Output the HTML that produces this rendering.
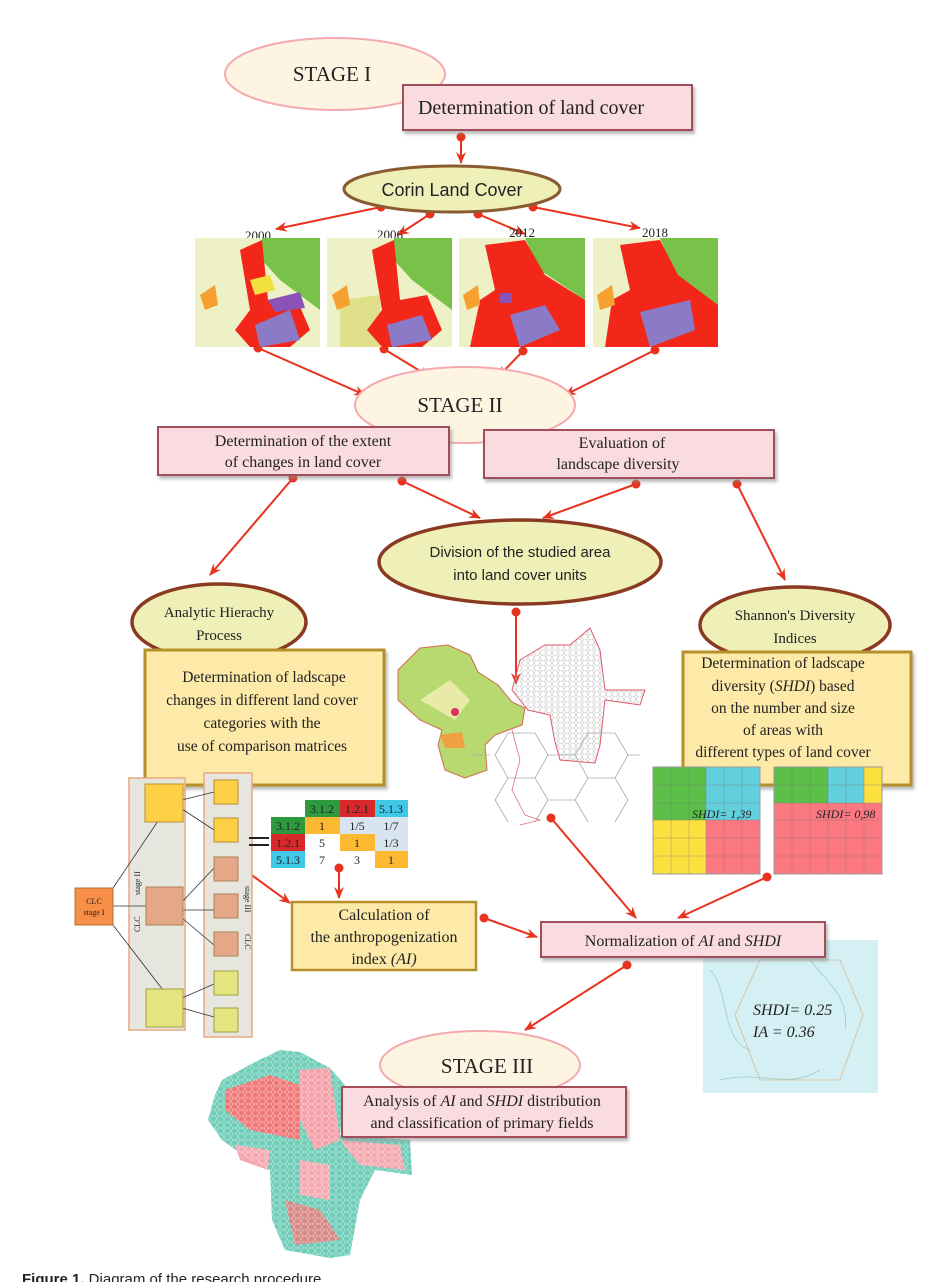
<!DOCTYPE html>
<html><head><meta charset="utf-8"><style>
html,body{margin:0;padding:0;background:#fff;}
svg{display:block;}
text{font-family:"Liberation Serif",serif;fill:#222;}
.s{font-family:"Liberation Sans",sans-serif;}
</style></head><body>
<svg width="948" height="1282" viewBox="0 0 948 1282" xmlns="http://www.w3.org/2000/svg">
<defs>
<marker id="ar" viewBox="0 0 12 10" refX="11" refY="5" markerWidth="12" markerHeight="10" markerUnits="userSpaceOnUse" orient="auto"><path d="M0,0 L12,5 L0,10 L4,5z" fill="#e8321e"/></marker>
<filter id="sh" x="-5%" y="-10%" width="115%" height="130%"><feDropShadow dx="2" dy="3" stdDeviation="1.5" flood-color="#888" flood-opacity="0.6"/></filter>
<pattern id="hexg" width="6" height="5.2" patternUnits="userSpaceOnUse"><path d="M0,2.6 L1.5,0 L4.5,0 L6,2.6 L4.5,5.2 L1.5,5.2z" fill="none" stroke="#bbb" stroke-width="0.5"/></pattern>
<pattern id="hexb" width="7" height="6" patternUnits="userSpaceOnUse"><circle cx="3.5" cy="3" r="3" fill="none" stroke="#fff" stroke-width="0.6" opacity="0.5"/></pattern>
<clipPath id="m1"><rect x="195" y="238" width="125" height="109"/></clipPath>
<clipPath id="m2"><rect x="327" y="238" width="125" height="109"/></clipPath>
<clipPath id="m3"><rect x="459" y="238" width="126" height="109"/></clipPath>
<clipPath id="m4"><rect x="593" y="238" width="125" height="109"/></clipPath>
</defs>
<!-- cyan box (behind) -->
<rect x="703" y="940" width="175" height="153" fill="#d4f0f4"/>
<path d="M735,1015 L760,960 L840,960 L863,1015 L840,1080 L760,1080z" fill="none" stroke="#d8b890" stroke-width="0.8"/>
<path d="M710,970 C730,990 720,1040 750,1050 M800,945 C820,980 850,990 845,1030 M720,1080 C760,1070 790,1090 820,1070" fill="none" stroke="#9cc" stroke-width="0.8"/>
<text x="753" y="1015" font-size="16" font-style="italic">SHDI= 0.25</text>
<text x="753" y="1037" font-size="16" font-style="italic">IA = 0.36</text>

<g stroke="#e8321e" stroke-width="2" fill="none" marker-end="url(#ar)">
<line x1="461" y1="137" x2="461" y2="163"/>
<line x1="381" y1="207" x2="276" y2="229"/>
<line x1="430" y1="214" x2="398" y2="235"/>
<line x1="478" y1="214" x2="525" y2="234"/>
<line x1="533" y1="207" x2="640" y2="228"/>
<line x1="258" y1="348" x2="365" y2="395"/>
<line x1="384" y1="349" x2="430" y2="377"/>
<line x1="523" y1="351" x2="498" y2="377"/>
<line x1="655" y1="350" x2="565" y2="395"/>
<line x1="293" y1="478" x2="210" y2="575"/>
<line x1="402" y1="481" x2="480" y2="518"/>
<line x1="636" y1="484" x2="543" y2="518"/>
<line x1="737" y1="484" x2="785" y2="580"/>
<line x1="516" y1="612" x2="516" y2="684"/>
<line x1="242" y1="868" x2="290" y2="903"/>
<line x1="339" y1="868" x2="339" y2="898"/>
<line x1="484" y1="918" x2="537" y2="937"/>
<line x1="551" y1="818" x2="636" y2="918"/>
<line x1="767" y1="877" x2="678" y2="918"/>
<line x1="627" y1="965" x2="525" y2="1030"/>
</g>
<g fill="#e8321e">
<circle cx="461" cy="137" r="4.5"/><circle cx="381" cy="207" r="4.5"/><circle cx="430" cy="214" r="4.5"/><circle cx="478" cy="214" r="4.5"/><circle cx="533" cy="207" r="4.5"/>
<circle cx="258" cy="348" r="4.5"/><circle cx="384" cy="349" r="4.5"/><circle cx="523" cy="351" r="4.5"/><circle cx="655" cy="350" r="4.5"/>
<circle cx="293" cy="478" r="4.5"/><circle cx="402" cy="481" r="4.5"/><circle cx="636" cy="484" r="4.5"/><circle cx="737" cy="484" r="4.5"/>
<circle cx="516" cy="612" r="4.5"/><circle cx="242" cy="868" r="4.5"/><circle cx="339" cy="868" r="4.5"/><circle cx="484" cy="918" r="4.5"/><circle cx="551" cy="818" r="4.5"/><circle cx="767" cy="877" r="4.5"/><circle cx="627" cy="965" r="4.5"/>
</g>

<!-- STAGE I -->
<ellipse cx="335" cy="74" rx="110" ry="36" fill="#fdf5e2" stroke="#f4a8b0" stroke-width="2"/>
<text x="332" y="81" font-size="21" text-anchor="middle">STAGE I</text>
<rect x="403" y="85" width="289" height="45" fill="#f9dbe0" stroke="#a0505a" stroke-width="2" filter="url(#sh)"/>
<text x="531" y="114" font-size="20" text-anchor="middle">Determination of land cover</text>
<ellipse cx="452" cy="189" rx="108" ry="23" fill="#eef0b8" stroke="#8a5a30" stroke-width="3"/>
<text class="s" x="452" y="196" font-size="18" text-anchor="middle">Corin Land Cover</text>

<!-- maps -->
<g font-size="13">
<text x="258" y="240" text-anchor="middle">2000</text><text x="390" y="239" text-anchor="middle">2006</text><text x="522" y="237" text-anchor="middle">2012</text><text x="655" y="237" text-anchor="middle">2018</text>
</g>
<g clip-path="url(#m1)">
<rect x="195" y="238" width="125" height="109" fill="#eef1c6"/>
<path d="M262,238 L320,238 L320,310 L280,280 L262,260z" fill="#78c24a"/>
<path d="M240,250 L262,240 L268,300 L295,295 L310,330 L290,347 L250,347 L235,330 L250,310 L245,280z" fill="#f2271a"/>
<path d="M255,325 L290,310 L300,340 L260,347z" fill="#8b7ac6"/>
<path d="M268,300 L300,292 L305,308 L275,312z" fill="#8b52b8"/>
<path d="M200,295 L215,285 L218,305 L205,310z" fill="#f5a030"/>
<path d="M250,280 L270,275 L275,290 L255,295z" fill="#f0e040"/>
</g>
<g clip-path="url(#m2)">
<rect x="327" y="238" width="125" height="109" fill="#eef1c6"/>
<path d="M340,300 L380,295 L380,347 L340,347z" fill="#e0e08a"/>
<path d="M394,238 L452,238 L452,310 L412,280 L394,260z" fill="#78c24a"/>
<path d="M372,250 L394,240 L400,300 L427,295 L442,330 L422,347 L382,347 L367,330 L382,310 L377,280z" fill="#f2271a"/>
<path d="M387,325 L422,315 L432,340 L392,347z" fill="#8b7ac6"/>
<path d="M332,295 L347,285 L350,305 L337,310z" fill="#f5a030"/>
</g>
<g clip-path="url(#m3)">
<rect x="459" y="238" width="126" height="109" fill="#eef1c6"/>
<path d="M525,238 L585,238 L585,300 L540,270z" fill="#78c24a"/>
<path d="M485,245 L525,240 L545,275 L585,300 L585,347 L470,347 L480,300 L495,290z" fill="#f2271a"/>
<path d="M510,315 L545,305 L560,330 L520,347z" fill="#8b7ac6"/>
<path d="M463,295 L478,285 L480,305 L467,310z" fill="#f5a030"/>
<rect x="500" y="293" width="12" height="10" fill="#8b52b8"/>
</g>
<g clip-path="url(#m4)">
<rect x="593" y="238" width="125" height="109" fill="#eef1c6"/>
<path d="M660,238 L718,238 L718,305 L675,275z" fill="#78c24a"/>
<path d="M620,245 L660,240 L678,275 L718,305 L718,347 L605,347 L612,300 L630,290z" fill="#f2271a"/>
<path d="M640,312 L690,300 L695,330 L650,347z" fill="#8b7ac6"/>
<path d="M597,295 L612,285 L615,305 L600,310z" fill="#f5a030"/>
</g>

<!-- STAGE II -->
<ellipse cx="465" cy="405" rx="110" ry="38" fill="#fdf5e2" stroke="#f4a8b0" stroke-width="2"/>
<text x="460" y="412" font-size="21" text-anchor="middle">STAGE II</text>
<rect x="158" y="427" width="291" height="48" fill="#f9dbe0" stroke="#a0505a" stroke-width="2" filter="url(#sh)"/>
<text x="303" y="446" font-size="16" text-anchor="middle">Determination of the extent</text>
<text x="303" y="467" font-size="16" text-anchor="middle">of changes in land cover</text>
<rect x="484" y="430" width="290" height="48" fill="#f9dbe0" stroke="#a0505a" stroke-width="2" filter="url(#sh)"/>
<text x="622" y="448" font-size="16" text-anchor="middle">Evaluation of</text>
<text x="618" y="469" font-size="16" text-anchor="middle">landscape diversity</text>

<ellipse cx="520" cy="562" rx="141" ry="42" fill="#eef0b8" stroke="#8a3a20" stroke-width="3.5"/>
<text class="s" x="520" y="557" font-size="15" text-anchor="middle">Division of the studied area</text>
<text class="s" x="520" y="580" font-size="15" text-anchor="middle">into land cover units</text>

<ellipse cx="219" cy="622" rx="87" ry="38" fill="#eef0b8" stroke="#8a3a20" stroke-width="3.5"/>
<text x="219" y="617" font-size="15" text-anchor="middle">Analytic Hierachy</text>
<text x="219" y="640" font-size="15" text-anchor="middle">Process</text>
<ellipse cx="795" cy="625" rx="95" ry="38" fill="#eef0b8" stroke="#8a3a20" stroke-width="3.5"/>
<text x="795" y="620" font-size="15" text-anchor="middle">Shannon's Diversity</text>
<text x="795" y="643" font-size="15" text-anchor="middle">Indices</text>

<rect x="145" y="650" width="239" height="135" fill="#fde9a8" stroke="#b8902a" stroke-width="3" filter="url(#sh)"/>
<g font-size="15.5" text-anchor="middle"><text x="264" y="682">Determination of ladscape</text><text x="262" y="705">changes in different land cover</text><text x="262" y="728">categories with the</text><text x="262" y="751">use of comparison matrices</text></g>
<rect x="683" y="652" width="228" height="133" fill="#fde9a8" stroke="#b8902a" stroke-width="3" filter="url(#sh)"/>
<g font-size="15.5" text-anchor="middle"><text x="783" y="668">Determination of ladscape</text><text x="783" y="691">diversity (<tspan font-style="italic">SHDI</tspan>) based</text><text x="783" y="713">on the number and size</text><text x="783" y="735">of areas with</text><text x="783" y="757">different types of land cover</text></g>

<!-- centre maps -->
<path d="M398,670 L420,648 L448,645 L470,655 L478,672 L498,685 L512,702 L525,708 L522,725 L495,735 L485,745 L487,770 L465,778 L445,770 L438,745 L442,730 L420,720 L398,700z" fill="#b8d870" stroke="#d06a50" stroke-width="1"/>
<path d="M420,700 L450,680 L470,700 L455,720z" fill="#e8eaa8"/>
<circle cx="455" cy="712" r="4" fill="#e03060"/>
<path d="M440,735 L462,732 L465,748 L445,748z" fill="#f0a040"/>
<path d="M520,660 L545,645 L570,645 L590,628 L600,650 L605,690 L645,690 L640,705 L605,700 L600,745 L595,763 L560,760 L555,742 L550,715 L528,710 L512,690z" fill="url(#hexg)" stroke="#e05868" stroke-width="1"/>
<g stroke="#aaa" stroke-width="0.8" fill="none">
<path d="M495,755 L508,733 L535,733 L548,755 L535,778 L508,778z M548,755 L575,755 L588,733 M588,778 L575,755 M588,733 L615,733 L628,755 L615,778 L588,778 M508,778 L495,800 L508,822 M535,778 L548,800 L575,800 L588,778 M548,800 L535,822 M575,800 L588,822 M615,778 L628,800 L615,822 M628,755 L640,755 M490,755 L470,755"/>
</g>
<path d="M512,730 L520,760 L512,790 L525,815 L540,820 L520,825" fill="none" stroke="#e07080" stroke-width="0.8"/>

<!-- hierarchy -->
<rect x="129" y="778" width="56" height="252" fill="#e6e6df" stroke="#e8a880" stroke-width="1.5"/>
<rect x="204" y="773" width="48" height="264" fill="#e6e6df" stroke="#e8a880" stroke-width="1.5"/>
<g stroke="#333" stroke-width="0.8"><line x1="113" y1="888" x2="158" y2="821"/><line x1="113" y1="906" x2="146" y2="906"/><line x1="113" y1="925" x2="163" y2="990"/>
<line x1="182" y1="800" x2="214" y2="792"/><line x1="182" y1="809" x2="214" y2="830"/><line x1="182" y1="902" x2="214" y2="868"/><line x1="182" y1="910" x2="214" y2="910"/><line x1="182" y1="918" x2="214" y2="945"/><line x1="182" y1="998" x2="214" y2="984"/><line x1="182" y1="1008" x2="214" y2="1017"/></g>
<rect x="75" y="888" width="38" height="37" fill="#f88f48" stroke="#b07030"/>
<text x="94" y="904" font-size="8" text-anchor="middle">CLC</text><text x="94" y="915" font-size="8" text-anchor="middle">stage I</text>
<rect x="145" y="784" width="38" height="38" fill="#fdd045" stroke="#b89030"/>
<rect x="146" y="887" width="37" height="38" fill="#e4a888" stroke="#b08050"/>
<rect x="146" y="989" width="37" height="38" fill="#e4e480" stroke="#a0a040"/>
<g stroke-width="1"><rect x="214" y="780" width="24" height="24" fill="#fdd045" stroke="#b89030"/><rect x="214" y="818" width="24" height="24" fill="#fdd045" stroke="#b89030"/>
<rect x="214" y="857" width="24" height="24" fill="#e4a888" stroke="#b08050"/><rect x="214" y="894" width="24" height="24" fill="#e4a888" stroke="#b08050"/><rect x="214" y="932" width="24" height="24" fill="#e4a888" stroke="#b08050"/>
<rect x="214" y="971" width="24" height="24" fill="#e4e480" stroke="#a0a040"/><rect x="214" y="1008" width="24" height="24" fill="#e4e480" stroke="#a0a040"/></g>
<text font-size="8" transform="translate(140,932) rotate(-90)">CLC</text><text font-size="8" transform="translate(140,895) rotate(-90)">stage II</text>
<text font-size="8" transform="translate(245,886) rotate(90)">stage III</text><text font-size="8" transform="translate(245,934) rotate(90)">CLC</text>

<!-- matrix -->
<g font-size="12" text-anchor="middle">
<rect x="305" y="800" width="35" height="17" fill="#2e9a40"/><rect x="340" y="800" width="35" height="17" fill="#d8282a"/><rect x="375" y="800" width="33" height="17" fill="#40c8e8"/>
<text x="322" y="813" fill="#fff">3.1.2</text><text x="357" y="813" fill="#fff">1.2.1</text><text x="391" y="813">5.1.3</text>
<rect x="271" y="817" width="34" height="17" fill="#2e9a40"/><rect x="305" y="817" width="35" height="17" fill="#fbb830"/><rect x="340" y="817" width="68" height="17" fill="#d8e4f0"/>
<text x="288" y="830" fill="#fff">3.1.2</text><text x="322" y="830">1</text><text x="357" y="830">1/5</text><text x="391" y="830">1/7</text>
<rect x="271" y="834" width="34" height="17" fill="#d8282a"/><rect x="340" y="834" width="35" height="17" fill="#fbb830"/><rect x="375" y="834" width="33" height="17" fill="#d8e4f0"/>
<text x="288" y="847" fill="#fff">1.2.1</text><text x="322" y="847">5</text><text x="357" y="847">1</text><text x="391" y="847">1/3</text>
<rect x="271" y="851" width="34" height="17" fill="#40c8e8"/><rect x="375" y="851" width="33" height="17" fill="#fbb830"/>
<text x="288" y="864">5.1.3</text><text x="322" y="864">7</text><text x="357" y="864">3</text><text x="391" y="864">1</text>
</g>
<g stroke="#222" stroke-width="2"><line x1="249" y1="838" x2="269" y2="838"/><line x1="249" y1="845" x2="269" y2="845"/></g>

<rect x="292" y="902" width="184" height="68" fill="#fde9a8" stroke="#b8902a" stroke-width="2.5"/>
<g font-size="16" text-anchor="middle"><text x="384" y="920">Calculation of</text><text x="384" y="942">the anthropogenization</text><text x="384" y="964">index <tspan font-style="italic">(AI)</tspan></text></g>

<rect x="541" y="922" width="284" height="35" fill="#f9dbe0" stroke="#a0505a" stroke-width="2" filter="url(#sh)"/>
<text x="683" y="946" font-size="16" text-anchor="middle">Normalization of <tspan font-style="italic">AI</tspan> and <tspan font-style="italic">SHDI</tspan></text>

<!-- SHDI grids -->
<g>
<rect x="653" y="767" width="53" height="53" fill="#5cbf48"/><rect x="706" y="767" width="54" height="53" fill="#62d0dc"/>
<rect x="653" y="820" width="53" height="54" fill="#fce040"/><rect x="706" y="820" width="54" height="54" fill="#fb7880"/>
<rect x="774" y="767" width="54" height="36" fill="#5cbf48"/><rect x="828" y="767" width="36" height="36" fill="#62d0dc"/><rect x="864" y="767" width="18" height="36" fill="#fce040"/>
<rect x="774" y="803" width="108" height="71" fill="#fb7880"/>
<g stroke="#777" stroke-width="0.5" opacity="0.7">
<path d="M653,785H760M653,803H760M653,820H760M653,838H760M653,856H760M671,767V874M689,767V874M706,767V874M724,767V874M742,767V874"/>
<path d="M774,785H882M774,803H882M774,820H882M774,838H882M774,856H882M792,767V874M810,767V874M828,767V874M846,767V874M864,767V874"/>
</g>
<rect x="653" y="767" width="107" height="107" fill="none" stroke="#999"/><rect x="774" y="767" width="108" height="107" fill="none" stroke="#999"/>
<text x="692" y="818" font-size="12" font-style="italic">SHDI= 1,39</text>
<text x="816" y="818" font-size="12" font-style="italic">SHDI= 0,98</text>
</g>

<!-- bottom map -->
<path d="M222,1080 L255,1062 L280,1050 L300,1052 L330,1068 L345,1085 L340,1135 L410,1140 L412,1175 L375,1170 L360,1200 L350,1255 L330,1258 L285,1250 L272,1220 L270,1170 L250,1160 L222,1140 L208,1120 L215,1095z" fill="#6fcdb8"/>
<path d="M225,1090 L270,1075 L300,1085 L300,1140 L250,1130 L225,1110z" fill="#f07878"/>
<path d="M300,1070 L330,1068 L340,1140 L315,1150 L300,1120z" fill="#f4a0a8"/>
<path d="M340,1140 L400,1145 L405,1170 L360,1165z" fill="#f4a8b0"/>
<path d="M300,1160 L330,1165 L330,1200 L300,1195z" fill="#f4a8b0"/>
<path d="M285,1200 L320,1210 L340,1240 L295,1245z" fill="#f07878" opacity="0.8"/>
<path d="M235,1145 L270,1150 L268,1170 L240,1160z" fill="#f4a8b0"/>
<path d="M222,1080 L255,1062 L280,1050 L300,1052 L330,1068 L345,1085 L340,1135 L410,1140 L412,1175 L375,1170 L360,1200 L350,1255 L330,1258 L285,1250 L272,1220 L270,1170 L250,1160 L222,1140 L208,1120 L215,1095z" fill="url(#hexb)"/>

<ellipse cx="480" cy="1065" rx="100" ry="34" fill="#fdf5e2" stroke="#f4a8b0" stroke-width="2"/>
<text x="487" y="1073" font-size="21" text-anchor="middle">STAGE III</text>
<rect x="342" y="1087" width="284" height="50" fill="#f9dbe0" stroke="#a0505a" stroke-width="2" filter="url(#sh)"/>
<text x="482" y="1106" font-size="16" text-anchor="middle">Analysis of <tspan font-style="italic">AI</tspan> and <tspan font-style="italic">SHDI</tspan> distribution</text>
<text x="482" y="1128" font-size="16" text-anchor="middle">and classification of primary fields</text>

<text class="s" x="22" y="1284" font-size="15"><tspan font-weight="bold">Figure 1.</tspan> Diagram of the research procedure</text>
</svg>
</body></html>
